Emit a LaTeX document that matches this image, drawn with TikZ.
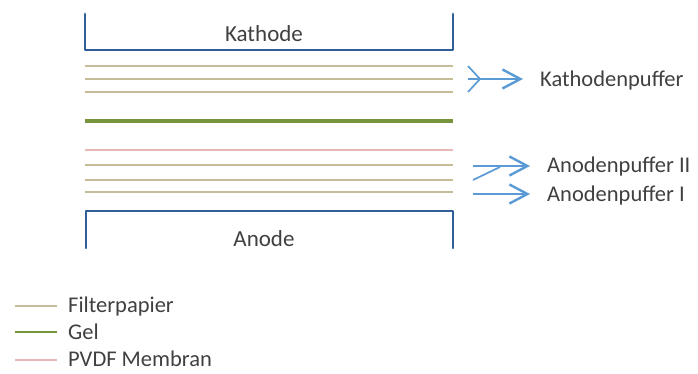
\documentclass[tikz,border=0pt]{standalone}
\usepackage{fontspec}
\setmainfont{Carlito}
\usetikzlibrary{arrows.meta}
\definecolor{filt}{HTML}{C4BD97}
\definecolor{gelc}{HTML}{77933C}
\definecolor{pvdf}{HTML}{E6B9B8}
\definecolor{elec}{HTML}{2F5E99}
\definecolor{arr}{HTML}{5B9BD5}
\definecolor{txt}{HTML}{404040}
\tikzset{
  x=1pt,y=-1pt,
  electrode/.style={draw=elec,line width=2.6pt,line cap=round,line join=round},
  filterline/.style={draw=filt,line width=1.8pt},
  gelline/.style={draw=gelc,line width=3.8pt},
  pvdfline/.style={draw=pvdf,line width=2pt},
  flowarrow/.style={draw=arr,line width=1.7pt,-{Straight Barb[length=18pt,width=19pt,line width=2.4pt]}},
  flowline/.style={draw=arr,line width=1.7pt},
  lbl/.style={font=\fontsize{22.5}{26}\selectfont,text=txt,inner sep=0pt},
}
\begin{document}
\begin{tikzpicture}
\useasboundingbox (0,0) rectangle (698,374);
% electrodes
\draw[electrode] (85,14) -- (85,50) -- (453,50) -- (453,14);
\draw[electrode] (86,248) -- (86,211) -- (453,211) -- (453,248);
\node[lbl,font=\fontsize{23}{26}\selectfont] (kat) at (264,34) {Kathode};
\node[lbl,font=\fontsize{23}{26}\selectfont] (ano) at (264,239) {Anode};
% layers
\draw[filterline] (85,66) -- (453,66);
\draw[filterline] (85,79) -- (453,79);
\draw[filterline] (85,92) -- (453,92);
\draw[gelline] (85,121) -- (453,121);
\draw[pvdfline] (85,150) -- (453,150);
\draw[filterline] (85,165) -- (453,165);
\draw[filterline] (85,180) -- (453,180);
\draw[filterline] (85,192) -- (453,192);
% labels
\node[lbl,anchor=west] (kp) at (540,81) {Kathodenpuffer};
\node[lbl,anchor=west] (ap2) at (547,167) {Anodenpuffer II};
\node[lbl,anchor=west] (ap1) at (547,196) {Anodenpuffer I};
% arrows
\coordinate (k0) at (468,79);
\coordinate (kj) at (480,79);
\coordinate (k1) at (523,79);
\draw[flowline,line join=round] (468,66) -- (kj) -- (468,92);
\draw[flowarrow] (k0) -- (k1);
\coordinate (a20) at (473,166);
\coordinate (a21) at (530,166);
\draw[flowarrow] (a20) -- (a21);
\draw[flowline] (473,180) -- (500,167);
\coordinate (a10) at (473,194);
\coordinate (a11) at (530,194);
\draw[flowarrow] (a10) -- (a11);
% legend
\draw[filterline] (15,306) -- (57,306);
\draw[gelline,line width=2.8pt] (15,332) -- (57,332);
\draw[pvdfline] (15,360) -- (57,360);
\node[lbl,anchor=west] (l1) at (68,306) {Filterpapier};
\node[lbl,anchor=west] (l2) at (68,332) {Gel};
\node[lbl,anchor=west] (l3) at (68,359) {PVDF Membran};
\end{tikzpicture}
\end{document}
